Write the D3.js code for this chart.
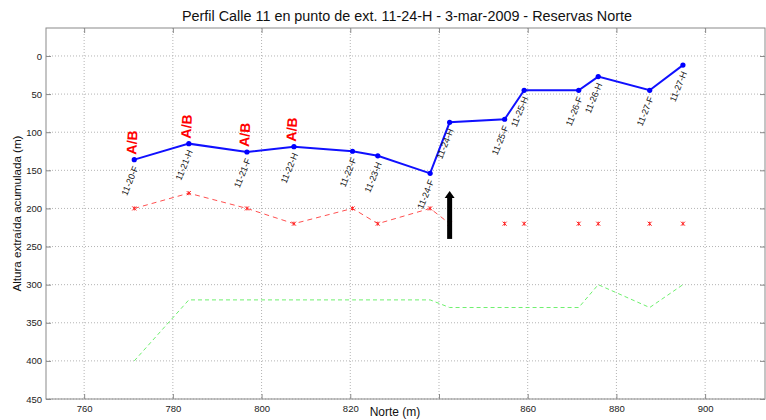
<!DOCTYPE html>
<html>
<head>
<meta charset="utf-8">
<script src="https://cdn.jsdelivr.net/npm/d3@7"></script>
<style>
  html, body { margin: 0; padding: 0; background: #fff; }
  svg { display: block; font-family: "Liberation Sans", Arial, sans-serif; }
</style>
</head>
<body>
<svg id="chart" width="766" height="420"></svg>
<script>
// ---- Data ----
const pointNames = ["11-20-F","11-21-H","11-21-F","11-22-H","11-22-F","11-23-H","11-24-F","11-24-H","11-25-F","11-25-H","11-26-F","11-26-H","11-27-F","11-27-H"];
const norte = [771.3, 783.6, 796.7, 807.3, 820.5, 826.2, 838.0, 842.4, 854.8, 859.2, 871.5, 875.9, 887.5, 895.0];
const alturaExtraida = [136, 115, 126, 119, 125, 131, 154, 87, 83, 45, 45, 27, 45, 12];
const redValues = [200, 180, 200, 220, 200, 220, 200, 220, 220, 220, 220, 220, 220, 220];
const redJoined = [true, true, true, true, true, true, true, true, false, false, false, false, false, false];
const greenValues = [400, 320, 320, 320, 320, 320, 320, 330, 330, 330, 330, 300, 330, 300];
const abLabels = ["A/B", "A/B", "A/B", "A/B", "", "", "", "", "", "", "", "", "", ""];
const arrowNorte = [842.4];
const arrowFrom = [240];
const arrowTo = [177];
const xTickValues = [760, 780, 800, 820, 840, 860, 880, 900];
const xTickLabels = ["760", "780", "800", "820", "", "860", "880", "900"];
const yTickValues = [0, 50, 100, 150, 200, 250, 300, 350, 400, 450];
const yTickLabels = ["0", "50", "100", "150", "200", "250", "300", "350", "400", "450"];
const titleText = "Perfil Calle 11 en punto de ext. 11-24-H - 3-mar-2009 - Reservas Norte";
const xLabelText = "Norte (m)";
const yLabelText = "Altura extraída acumulada (m)";

// ---- Layout ----
const L = 46, R = 765, T = 28, B = 399;
const svg = d3.select("#chart");
svg.append("rect").attr("width", 766).attr("height", 420).attr("fill", "#fff");

const x = d3.scaleLinear().domain([751.4, 913.5]).range([L, R]);
const y = d3.scaleLinear().domain([-36.7, 450]).range([T, B]);

const pts = pointNames.map((n, i) => ({
  name: n, x: norte[i], blue: alturaExtraida[i], red: redValues[i],
  joined: redJoined[i], green: greenValues[i], ab: abLabels[i]
}));

// ---- Grid ----
const grid = svg.append("g");
grid.selectAll("line.gx").data(xTickValues).join("line")
  .attr("x1", d => x(d)).attr("x2", d => x(d)).attr("y1", T).attr("y2", B)
  .attr("stroke", "#b4b4b4").attr("stroke-width", 1).attr("stroke-dasharray", "1,2");
grid.selectAll("line.gy").data(yTickValues).join("line")
  .attr("y1", d => y(d)).attr("y2", d => y(d)).attr("x1", L).attr("x2", R)
  .attr("stroke", "#b4b4b4").attr("stroke-width", 1).attr("stroke-dasharray", "1,2");

// ---- Axes (MATLAB-like box with inward ticks) ----
const axColor = "#8a8a8a";
const tickLen = 5;
const xAxisB = d3.axisBottom(x).tickValues(xTickValues).tickSizeInner(-tickLen).tickSizeOuter(0)
  .tickPadding(6).tickFormat((d, i) => xTickLabels[i]);
const xAxisT = d3.axisTop(x).tickValues(xTickValues).tickSizeInner(-tickLen).tickSizeOuter(0).tickFormat("");
const yAxisL = d3.axisLeft(y).tickValues(yTickValues).tickSizeInner(-tickLen).tickSizeOuter(0)
  .tickPadding(4).tickFormat((d, i) => yTickLabels[i]);
const yAxisR = d3.axisRight(y).tickValues(yTickValues).tickSizeInner(-tickLen).tickSizeOuter(0).tickFormat("");

function styleAxis(g) {
  g.select(".domain").remove();
  g.selectAll(".tick line").attr("stroke", axColor);
  g.selectAll(".tick text").attr("fill", "#222").style("font-size", "9.5px")
    .style("font-family", '"Liberation Sans", Arial, sans-serif');
}
svg.append("g").attr("transform", `translate(0,${B})`).call(xAxisB).call(styleAxis);
svg.append("g").attr("transform", `translate(0,${T})`).call(xAxisT).call(styleAxis);
svg.append("g").attr("transform", `translate(${L},0)`).call(yAxisL).call(styleAxis);
svg.append("g").attr("transform", `translate(${R},0)`).call(yAxisR).call(styleAxis);
svg.append("rect").attr("x", L).attr("y", T).attr("width", R - L).attr("height", B - T)
  .attr("fill", "none").attr("stroke", axColor).attr("stroke-width", 1);

// ---- Green dashed line ----
svg.append("path").datum(pts)
  .attr("d", d3.line().x(d => x(d.x)).y(d => y(d.green)))
  .attr("fill", "none").attr("stroke", "#6ef06e").attr("stroke-width", 1)
  .attr("stroke-dasharray", "4,3");

// ---- Red dashed line with asterisk markers ----
svg.append("path").datum(pts)
  .attr("d", d3.line().defined(d => d.joined).x(d => x(d.x)).y(d => y(d.red)))
  .attr("fill", "none").attr("stroke", "#ff5050").attr("stroke-width", 1)
  .attr("stroke-dasharray", "5,4");
const star = svg.append("g").selectAll("g").data(pts).join("g")
  .attr("transform", d => `translate(${x(d.x)},${y(d.red)})`);
const s = 2;
star.append("line").attr("x1", -s).attr("x2", s).attr("y1", -s).attr("y2", s);
star.append("line").attr("x1", -s).attr("x2", s).attr("y1", s).attr("y2", -s);
star.append("line").attr("x1", 0).attr("x2", 0).attr("y1", -s).attr("y2", s);
star.selectAll("line").attr("stroke", "#ff2020").attr("stroke-width", 1);

// ---- Blue solid line ----
svg.append("path").datum(pts)
  .attr("d", d3.line().x(d => x(d.x)).y(d => y(d.blue)))
  .attr("fill", "none").attr("stroke", "#1010ff").attr("stroke-width", 2);
svg.append("g").selectAll("circle").data(pts).join("circle")
  .attr("cx", d => x(d.x)).attr("cy", d => y(d.blue)).attr("r", 2.6).attr("fill", "#0000ff");

// ---- Point name labels ----
svg.append("g").selectAll("text").data(pts).join("text")
  .attr("transform", d => `translate(${x(d.x) + 2},${y(d.blue) + 7}) rotate(-68)`)
  .attr("text-anchor", "end").attr("dominant-baseline", "middle")
  .style("font-size", "9px").attr("fill", "#111")
  .text(d => d.name);

// ---- A/B labels ----
svg.append("g").selectAll("text").data(pts.filter(d => d.ab)).join("text")
  .attr("transform", d => `translate(${x(d.x) + 2},${y(d.blue) - 5}) rotate(-87)`)
  .attr("text-anchor", "start")
  .style("font-size", "14px").style("font-weight", "bold").attr("fill", "#ff0000")
  .text(d => d.ab);

// ---- Arrow ----
const ax = x(arrowNorte[0]), ay0 = y(arrowFrom[0]), ay1 = y(arrowTo[0]);
svg.append("line").attr("x1", ax).attr("x2", ax).attr("y1", ay0).attr("y2", ay1 + 6)
  .attr("stroke", "#000").attr("stroke-width", 5);
svg.append("path")
  .attr("d", `M${ax},${ay1} L${ax - 5},${ay1 + 7} L${ax + 5},${ay1 + 7} Z`)
  .attr("fill", "#000");

// ---- Titles ----
svg.append("text").attr("x", 407).attr("y", 17).attr("text-anchor", "middle")
  .attr("dominant-baseline", "middle").style("font-size", "14px").attr("fill", "#111")
  .attr("textLength", 450).attr("lengthAdjust", "spacingAndGlyphs")
  .text(titleText);
svg.append("text").attr("x", 395).attr("y", 413).attr("text-anchor", "middle")
  .attr("dominant-baseline", "middle").style("font-size", "12px").attr("fill", "#111")
  .text(xLabelText);
svg.append("text").attr("transform", `translate(18,${(T + B) / 2}) rotate(-90)`)
  .attr("text-anchor", "middle").attr("dominant-baseline", "middle")
  .style("font-size", "11.6px").attr("fill", "#111")
  .text(yLabelText);
</script>
</body>
</html>
